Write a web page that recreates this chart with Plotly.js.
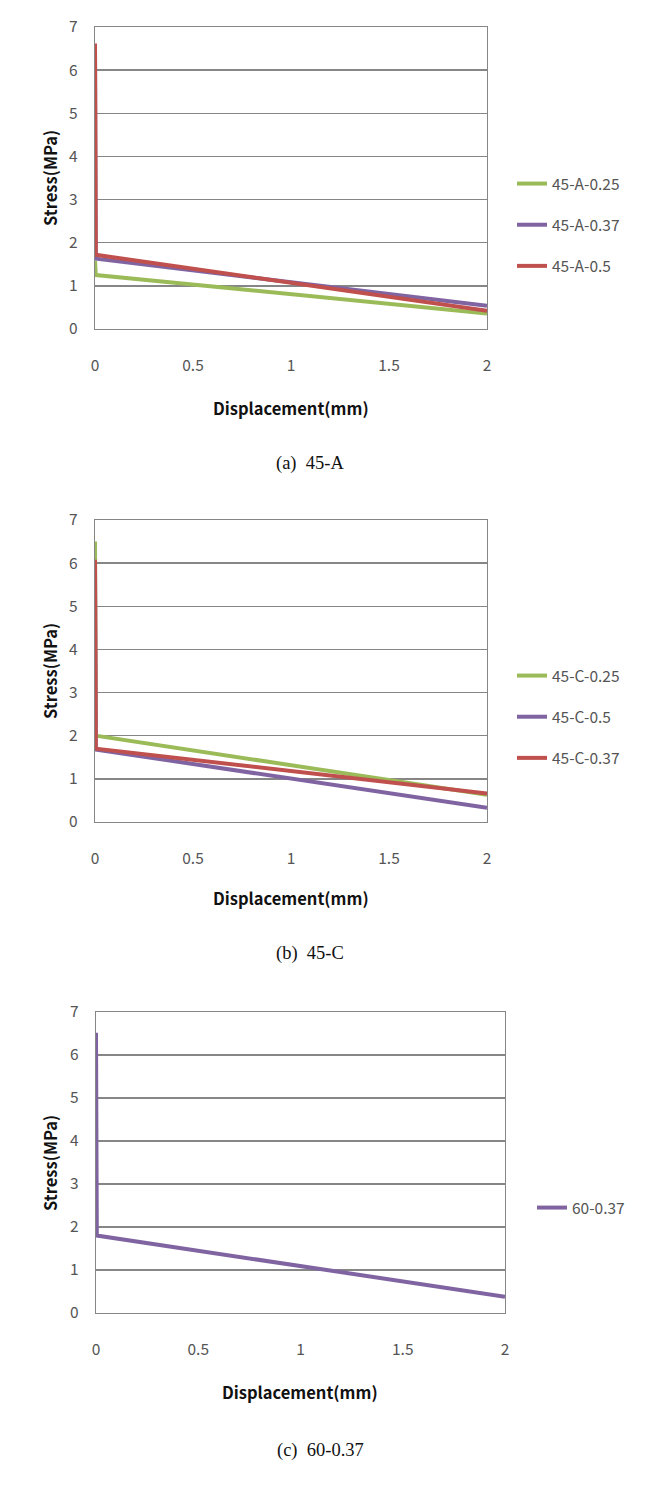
<!DOCTYPE html>
<html>
<head>
<meta charset="utf-8">
<script src="https://cdn.plot.ly/plotly-3.0.1.min.js"></script>
<style>html,body{margin:0;padding:0;background:#fff}#chart{width:647px;height:1494px}</style>
</head>
<body>
<div id="chart"></div>
<script>
// ---- data ----
const displacement = [0, 0.004, 2];
const xTicks = [0, 0.5, 1, 1.5, 2];
const xTickText = ['0', '0.5', '1', '1.5', '2'];
const yTicks = [0, 1, 2, 3, 4, 5, 6, 7];

const names45A = ['45-A-0.25', '45-A-0.37', '45-A-0.5'];
const s45A_025 = [1.58, 1.25, 0.36];
const s45A_037 = [6.5, 1.63, 0.54];
const s45A_05 = [6.62, 1.72, 0.42];

const names45C = ['45-C-0.25', '45-C-0.5', '45-C-0.37'];
const s45C_025 = [6.5, 2.0, 0.63];
const s45C_05 = [5.9, 1.68, 0.33];
const s45C_037 = [6.08, 1.7, 0.66];

const names60 = ['60-0.37'];
const s60_037 = [6.52, 1.8, 0.38];

const captions = ['(a)  45-A', '(b)  45-C', '(c)  60-0.37'];

// ---- styles ----
const GREEN = '#9BBB59', PURPLE = '#8064A2', RED = '#C0504D';
const W = 647, H = 1494;
const px = v => v / W;
const py = v => 1 - v / H;
const SANS = 'Noto Sans CJK KR, Noto Sans, sans-serif';

function tr(x, y, name, color, xa, ya, leg) {
  return {x: x, y: y, name: name, type: 'scatter', mode: 'lines',
    line: {color: color, width: 4}, xaxis: xa, yaxis: ya,
    legend: leg, legendgroup: name, showlegend: true};
}

const data = [
  tr(displacement, s45A_025, names45A[0], GREEN, 'x', 'y', 'legend'),
  tr(displacement, s45A_037, names45A[1], PURPLE, 'x', 'y', 'legend'),
  tr(displacement, s45A_05, names45A[2], RED, 'x', 'y', 'legend'),
  tr(displacement, s45C_025, names45C[0], GREEN, 'x2', 'y2', 'legend2'),
  tr(displacement, s45C_05, names45C[1], PURPLE, 'x2', 'y2', 'legend2'),
  tr(displacement, s45C_037, names45C[2], RED, 'x2', 'y2', 'legend2'),
  tr(displacement, s60_037, names60[0], PURPLE, 'x3', 'y3', 'legend3')
];

const tickFont = {family: SANS, size: 15.5, color: '#555555'};

function xax(dom, anchor) {
  return {domain: dom, anchor: anchor, range: [0, 2], tickvals: xTicks, ticktext: xTickText,
    showgrid: false, zeroline: false, showline: true, linecolor: '#868686', linewidth: 1.3,
    mirror: true, ticks: '', ticklabelstandoff: 22, tickfont: tickFont, fixedrange: true};
}
function yax(dom, anchor) {
  return {domain: dom, anchor: anchor, range: [0, 7], tickvals: yTicks,
    showgrid: true, gridcolor: '#868686', gridwidth: 1.3, zeroline: false,
    showline: true, linecolor: '#868686', linewidth: 1.3, mirror: true,
    ticks: '', ticklabelstandoff: 13, tickfont: tickFont, fixedrange: true};
}

function legendAt(xpx, ypx) {
  return {x: px(xpx), y: py(ypx), xanchor: 'left', yanchor: 'middle',
    font: {family: SANS, size: 15.5, color: '#555555'},
    tracegroupgap: 18, bgcolor: 'rgba(0,0,0,0)', itemwidth: 30};
}

const titleFont = {family: SANS, size: 16.5, color: '#111', weight: 'bold'};
const capFont = {family: 'Liberation Serif, DejaVu Serif, serif', size: 18.5, color: '#111'};

function ann(text, xpx, ypx, font, angle) {
  return {text: text, x: px(xpx), y: py(ypx), xref: 'paper', yref: 'paper',
    xanchor: 'center', yanchor: 'middle', showarrow: false, font: font, textangle: angle || 0};
}

const layout = {
  width: W, height: H,
  margin: {l: 0, r: 0, t: 0, b: 0},
  paper_bgcolor: '#fff', plot_bgcolor: '#fff',
  xaxis: xax([px(95), px(487)], 'y'),
  yaxis: yax([py(329), py(27)], 'x'),
  xaxis2: xax([px(95), px(487)], 'y2'),
  yaxis2: yax([py(822), py(520)], 'x2'),
  xaxis3: xax([px(96), px(505)], 'y3'),
  yaxis3: yax([py(1313), py(1012)], 'x3'),
  legend: legendAt(512, 225),
  legend2: legendAt(512, 717),
  legend3: legendAt(532, 1208),
  annotations: [
    ann('Displacement(mm)', 291, 408, titleFont),
    ann('Stress(MPa)', 50, 178, titleFont, -90),
    ann(captions[0], 310, 463, capFont),
    ann('Displacement(mm)', 291, 898, titleFont),
    ann('Stress(MPa)', 50, 671, titleFont, -90),
    ann(captions[1], 310, 953, capFont),
    ann('Displacement(mm)', 300, 1392, titleFont),
    ann('Stress(MPa)', 50, 1163, titleFont, -90),
    ann(captions[2], 320, 1450, capFont)
  ]
};

Plotly.newPlot('chart', data, layout, {staticPlot: true, displayModeBar: false});
</script>
</body>
</html>
